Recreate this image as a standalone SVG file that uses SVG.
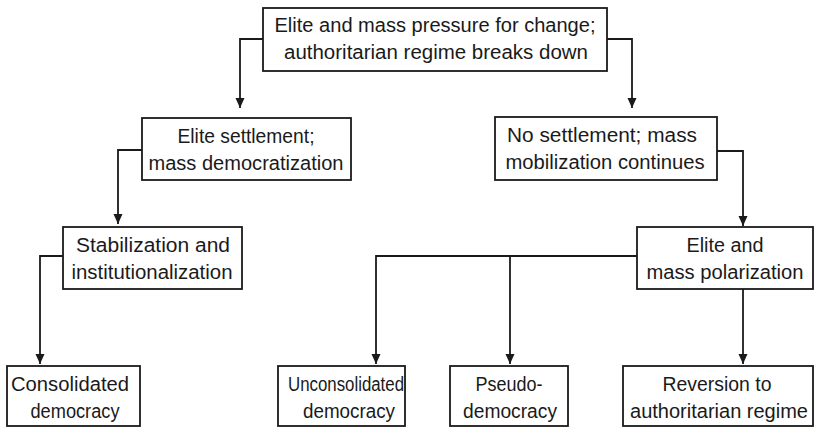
<svg xmlns="http://www.w3.org/2000/svg" width="815" height="428" viewBox="0 0 815 428">
  <style>
    .box { fill: #ffffff; stroke: #1a1a1a; stroke-width: 1.8; }
    .lbl { font-family: "Liberation Sans", Arial, sans-serif; font-size: 20px; fill: #1a1a1a; text-anchor: middle; }
    .wire { fill: none; stroke: #1a1a1a; stroke-width: 1.8; }
  </style>
  <defs>
    <marker id="arrow" viewBox="0 0 10 10" refX="10" refY="5" markerWidth="10" markerHeight="10" markerUnits="userSpaceOnUse" orient="auto">
      <path d="M0,0.5 L10,5 L0,9.5 Z" fill="#1a1a1a"/>
    </marker>
  </defs>

  <rect width="815" height="428" fill="#ffffff"/>

  <!-- connectors -->
  <g id="connectors">
    <path class="wire" d="M263,39 H240 V108" marker-end="url(#arrow)"/>
    <path class="wire" d="M607,39 H632 V108" marker-end="url(#arrow)"/>
    <path class="wire" d="M142,150 H118 V224" marker-end="url(#arrow)"/>
    <path class="wire" d="M717,151 H743 V226" marker-end="url(#arrow)"/>
    <path class="wire" d="M63,256 H40 V364" marker-end="url(#arrow)"/>
    <path class="wire" d="M637,256 H376 V364" marker-end="url(#arrow)"/>
    <path class="wire" d="M510,256 V364" marker-end="url(#arrow)"/>
    <path class="wire" d="M743,289 V364" marker-end="url(#arrow)"/>
  </g>

  <g id="breakdown">
    <rect class="box" x="263" y="8" width="344" height="63"/>
    <text class="lbl" x="435" y="32" textLength="321" lengthAdjust="spacingAndGlyphs">Elite and mass pressure for change;</text>
    <text class="lbl" x="436" y="59" textLength="304" lengthAdjust="spacingAndGlyphs">authoritarian regime breaks down</text>
  </g>

  <g id="settlement">
    <rect class="box" x="142" y="118" width="209" height="62"/>
    <text class="lbl" x="246" y="143" textLength="137" lengthAdjust="spacingAndGlyphs">Elite settlement;</text>
    <text class="lbl" x="246" y="170" textLength="195" lengthAdjust="spacingAndGlyphs">mass democratization</text>
  </g>

  <g id="no-settlement">
    <rect class="box" x="495" y="117" width="222" height="63"/>
    <text class="lbl" x="602" y="142" textLength="190" lengthAdjust="spacingAndGlyphs">No settlement; mass</text>
    <text class="lbl" x="605" y="169" textLength="199" lengthAdjust="spacingAndGlyphs">mobilization continues</text>
  </g>

  <g id="stabilization">
    <rect class="box" x="63" y="227" width="179" height="62"/>
    <text class="lbl" x="153" y="252" textLength="154" lengthAdjust="spacingAndGlyphs">Stabilization and</text>
    <text class="lbl" x="152" y="279" textLength="161" lengthAdjust="spacingAndGlyphs">institutionalization</text>
  </g>

  <g id="polarization">
    <rect class="box" x="637" y="227" width="176" height="62"/>
    <text class="lbl" x="725" y="252" textLength="77" lengthAdjust="spacingAndGlyphs">Elite and</text>
    <text class="lbl" x="725" y="279" textLength="157" lengthAdjust="spacingAndGlyphs">mass polarization</text>
  </g>

  <g id="consolidated">
    <rect class="box" x="7" y="366" width="133" height="60"/>
    <text class="lbl" x="70" y="391" textLength="118" lengthAdjust="spacingAndGlyphs">Consolidated</text>
    <text class="lbl" x="75" y="418" textLength="89" lengthAdjust="spacingAndGlyphs">democracy</text>
  </g>

  <g id="unconsolidated">
    <rect class="box" x="278" y="366" width="127" height="60"/>
    <text class="lbl" x="346" y="391" textLength="116" lengthAdjust="spacingAndGlyphs">Unconsolidated</text>
    <text class="lbl" x="349" y="418" textLength="92" lengthAdjust="spacingAndGlyphs">democracy</text>
  </g>

  <g id="pseudo">
    <rect class="box" x="450" y="366" width="118" height="60"/>
    <text class="lbl" x="509" y="391" textLength="67" lengthAdjust="spacingAndGlyphs">Pseudo-</text>
    <text class="lbl" x="510" y="418" textLength="94" lengthAdjust="spacingAndGlyphs">democracy</text>
  </g>

  <g id="reversion">
    <rect class="box" x="623" y="366" width="190" height="60"/>
    <text class="lbl" x="717" y="391" textLength="109" lengthAdjust="spacingAndGlyphs">Reversion to</text>
    <text class="lbl" x="719" y="418" textLength="178" lengthAdjust="spacingAndGlyphs">authoritarian regime</text>
  </g>
</svg>
